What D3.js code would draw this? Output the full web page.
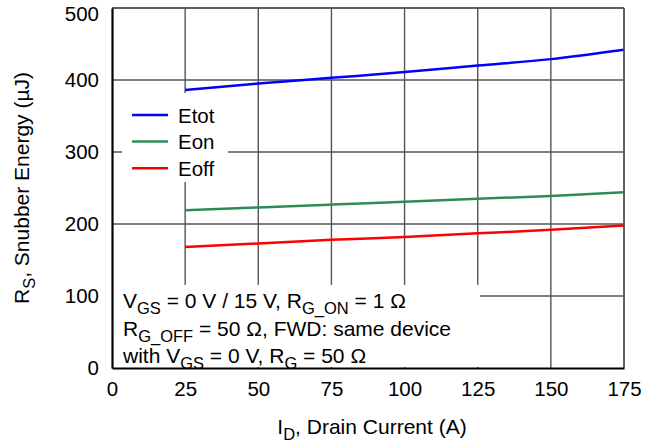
<!DOCTYPE html>
<html lang="en">
<meta charset="utf-8">
<title>Snubber Energy vs Drain Current</title>
<head>
<style>
  body { margin: 0; background: #fff; }
  text { font-family: "Liberation Sans", Arial, sans-serif; }
</style>
</head>
<body>
  <script src="https://d3js.org/d3.v7.min.js"></script>
  <div id="my_dataviz"></div>
  <script>

    // data
    var current = [25, 50, 75, 100, 125, 150, 175];
    var etot = [386, 395, 403, 411, 420, 429, 442];
    var eon = [219, 223, 227, 231, 235, 239, 244];
    var eoff = [168, 173, 178, 182, 187, 192, 198];
    var xTicks = [0, 25, 50, 75, 100, 125, 150, 175];
    var yTicks = [0, 100, 200, 300, 400, 500];
    var seriesNames = ["Etot", "Eon", "Eoff"];
    var seriesColors = ["#0000ff", "#2e8b57", "#ff0000"];

    var margin = { top: 8, right: 31, bottom: 74, left: 112 },
      width = 655 - margin.left - margin.right,
      height = 442 - margin.top - margin.bottom;

    var svg = d3.select("#my_dataviz")
      .append("svg")
      .attr("width", 655)
      .attr("height", 442)
      .append("g")
      .attr("transform", "translate(" + margin.left + "," + margin.top + ")");

    var x = d3.scaleLinear().domain([0, 175]).range([0, width]);
    var y = d3.scaleLinear().domain([0, 500]).range([height, 0]);

    // grid
    svg.append("g").selectAll("line")
      .data(xTicks.slice(1))
      .enter().append("line")
      .attr("x1", d => x(d)).attr("x2", d => x(d))
      .attr("y1", 0).attr("y2", height)
      .attr("stroke", "#555").attr("stroke-width", 1.4);
    svg.append("g").selectAll("line")
      .data(yTicks.slice(1))
      .enter().append("line")
      .attr("x1", 0).attr("x2", width)
      .attr("y1", d => y(d)).attr("y2", d => y(d))
      .attr("stroke", "#555").attr("stroke-width", 1.4);

    // series
    var series = [etot, eon, eoff];
    var line = d3.line()
      .x((d, i) => x(current[i]))
      .y(d => y(d))
      .curve(d3.curveMonotoneX);
    series.forEach((s, k) => {
      svg.append("path")
        .datum(s)
        .attr("fill", "none")
        .attr("stroke", seriesColors[k])
        .attr("stroke-width", 2.5)
        .attr("d", line);
    });

    // legend box
    var legend = svg.append("g").attr("transform", "translate(10,85)");
    legend.append("rect")
      .attr("x", 0).attr("y", 0).attr("width", 106).attr("height", 89)
      .attr("fill", "#fff");
    seriesNames.forEach((n, k) => {
      var ly = 22 + k * 26.6;
      legend.append("line")
        .attr("x1", 10).attr("x2", 46).attr("y1", ly).attr("y2", ly)
        .attr("stroke", seriesColors[k]).attr("stroke-width", 2.5);
      legend.append("text")
        .attr("x", 56).attr("y", ly + 7.5)
        .attr("font-size", 20.5).text(n);
    });

    // conditions box
    var note = svg.append("g").attr("transform", "translate(1,277)");
    note.append("rect")
      .attr("x", 0).attr("y", 0).attr("width", 367).attr("height", 82)
      .attr("fill", "#fff");
    var noteLines = [
      [["V", ""], ["GS", "sub"], [" = 0 V / 15 V, R", ""], ["G_ON", "sub"], [" = 1 \u03A9", ""]],
      [["R", ""], ["G_OFF", "sub"], [" = 50 \u03A9, FWD: same device", ""]],
      [["with V", ""], ["GS", "sub"], [" = 0 V, R", ""], ["G", "sub"], [" = 50 \u03A9", ""]]
    ];
    noteLines.forEach((parts, k) => {
      var t = note.append("text")
        .attr("x", 10).attr("y", 23 + k * 27.5)
        .attr("font-size", 21);
      parts.forEach((p, j) => {
        var ts = t.append("tspan").text(p[0]);
        if (p[1] === "sub") ts.attr("font-size", 16.5).attr("dy", 6);
        else if (j > 0) ts.attr("dy", -6);
      });
    });

    // frame: top/right gray, left/bottom black
    svg.append("line").attr("x1", 0).attr("x2", width).attr("y1", 0).attr("y2", 0)
      .attr("stroke", "#555").attr("stroke-width", 1.4);
    svg.append("line").attr("x1", width).attr("x2", width).attr("y1", 0).attr("y2", height)
      .attr("stroke", "#555").attr("stroke-width", 1.4);

    // axes
    var xAxis = svg.append("g")
      .attr("transform", "translate(0," + height + ")")
      .call(d3.axisBottom(x).tickValues(xTicks).tickSize(0).tickPadding(13));
    var yAxis = svg.append("g")
      .call(d3.axisLeft(y).tickValues(yTicks).tickSize(0).tickPadding(13));
    [xAxis, yAxis].forEach(a => {
      a.select(".domain").attr("stroke", "#000").attr("stroke-width", 2.2);
      a.selectAll("text").attr("font-size", 20.5).attr("fill", "#000")
        .attr("font-family", "'Liberation Sans', Arial, sans-serif");
    });
    // top label sits lower so it stays inside the page
    yAxis.selectAll("text").attr("dy", d => d === 500 ? "0.62em" : "0.3em");

    // axis titles
    var xt = svg.append("text")
      .attr("x", width / 2 + 4).attr("y", height + 66)
      .attr("text-anchor", "middle").attr("font-size", 21);
    xt.append("tspan").text("I");
    xt.append("tspan").text("D").attr("font-size", 16.5).attr("dy", 6);
    xt.append("tspan").text(", Drain Current (A)").attr("dy", -6);

    var yt = svg.append("text")
      .attr("transform", "translate(-83,180) rotate(-90)")
      .attr("text-anchor", "middle").attr("font-size", 21);
    yt.append("tspan").text("R");
    yt.append("tspan").text("S").attr("font-size", 16.5).attr("dy", 6);
    yt.append("tspan").text(", Snubber Energy (\u00B5J)").attr("dy", -6);

  </script>
</body>
</html>
